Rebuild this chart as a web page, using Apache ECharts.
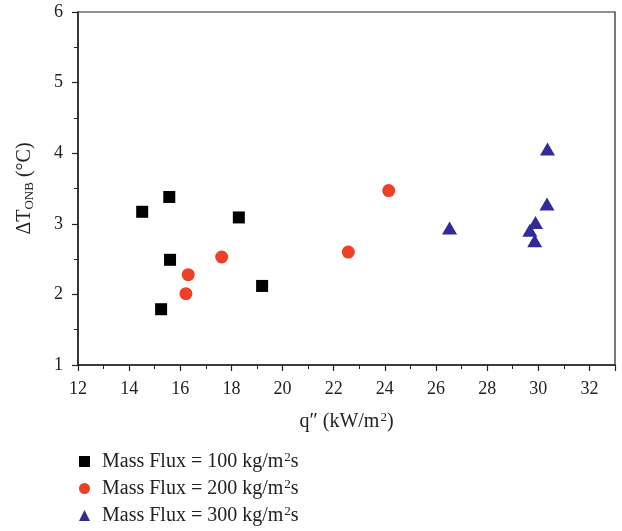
<!DOCTYPE html>
<html><head><meta charset="utf-8">
<script src="https://cdn.jsdelivr.net/npm/echarts@6/dist/echarts.min.js"></script>
<style>html,body{margin:0;padding:0;background:#fff}#c{width:622px;height:531px}</style>
</head><body><div id="c"></div>
<script>
const seriesNames = ['Mass Flux = 100 kg/m²s', 'Mass Flux = 200 kg/m²s', 'Mass Flux = 300 kg/m²s'];
const q100 = [14.51, 15.57, 18.29, 15.60, 19.20, 15.25];
const t100 = [3.17, 3.38, 3.09, 2.49, 2.12, 1.79];
const q200 = [17.62, 16.31, 16.22, 22.57, 24.15];
const t200 = [2.53, 2.28, 2.01, 2.60, 3.47];
const q300 = [26.53, 30.34, 29.89, 29.67, 29.86, 30.36];
const t300 = [2.94, 3.28, 3.02, 2.91, 2.76, 4.06];
const xTicks = [12, 14, 16, 18, 20, 22, 24, 26, 28, 30, 32];
const yTicks = [1, 2, 3, 4, 5, 6];

const FONT = "'Liberation Serif', 'DejaVu Serif', serif";
const C = '#222';
const pairs = (xs, ys) => xs.map((x, i) => [x, ys[i]]);
const supRich = {
  a: { fontFamily: FONT, fontSize: 20, color: C },
  sup: { fontFamily: FONT, fontSize: 13, color: C, padding: [0, 0, 8, 1] }
};
const chart = echarts.init(document.getElementById('c'));
chart.setOption({
  animation: false,
  textStyle: { fontFamily: FONT },
  grid: { left: 78, right: 7, top: 12, bottom: 166, show: true, borderColor: C, borderWidth: 1.2, backgroundColor: 'transparent' },
  xAxis: {
    type: 'value', min: 12, max: 33, interval: 2,
    name: '{a|q″ (kW/m}{sup|2}{a|)}', nameLocation: 'middle', nameGap: 46,
    nameTextStyle: { fontFamily: FONT, fontSize: 20, color: C, rich: supRich },
    axisLine: { lineStyle: { color: C, width: 1.5 } },
    axisTick: { inside: false, length: 6, lineStyle: { color: C, width: 1.2 } },
    minorTick: { show: true, splitNumber: 2, length: 4, lineStyle: { color: C, width: 1 } },
    splitLine: { show: false },
    axisLabel: { fontFamily: FONT, fontSize: 18, color: C, margin: 15,
      formatter: v => xTicks.includes(v) ? String(v) : '' }
  },
  yAxis: {
    type: 'value', min: 1, max: 6, interval: 1,
    name: '{a|ΔT}{s|ONB}{a| (°C)}', nameLocation: 'middle', nameGap: 42, nameRotate: 90,
    nameTextStyle: { fontFamily: FONT, color: C,
      rich: { a: { fontFamily: FONT, fontSize: 20, color: C },
              s: { fontFamily: FONT, fontSize: 13, color: C, padding: [10, 0, 0, 0] } } },
    axisLine: { lineStyle: { color: C, width: 1.5 } },
    axisTick: { inside: false, length: 6, lineStyle: { color: C, width: 1.2 } },
    minorTick: { show: true, splitNumber: 2, length: 4, lineStyle: { color: C, width: 1 } },
    splitLine: { show: false },
    axisLabel: { fontFamily: FONT, fontSize: 18, color: C, margin: 15,
      formatter: v => yTicks.includes(v) ? String(v) : '' }
  },
  legend: {
    orient: 'vertical', left: 79, top: 451, padding: 0, itemGap: 6, itemWidth: 11, itemHeight: 11,
    formatter: n => {
      const i = n.indexOf('m²');
      return '{a|' + n.slice(0, i + 1) + '}{sup|2}{a|' + n.slice(i + 2) + '}';
    },
    textStyle: { fontFamily: FONT, fontSize: 20, color: C, lineHeight: 21, padding: [0, 0, 0, 7], rich: supRich },
    data: [
      { name: seriesNames[0], icon: 'rect' },
      { name: seriesNames[1], icon: 'circle' },
      { name: seriesNames[2], icon: 'triangle' }
    ]
  },
  series: [
    { name: seriesNames[0], type: 'scatter', symbol: 'rect', symbolSize: 12,
      itemStyle: { color: '#000', opacity: 1 }, data: pairs(q100, t100) },
    { name: seriesNames[1], type: 'scatter', symbol: 'circle', symbolSize: 13,
      itemStyle: { color: '#ee4026', opacity: 1 }, data: pairs(q200, t200) },
    { name: seriesNames[2], type: 'scatter', symbol: 'triangle', symbolSize: [15, 13],
      itemStyle: { color: '#332a99', opacity: 1 }, data: pairs(q300, t300) }
  ]
});
</script></body></html>
